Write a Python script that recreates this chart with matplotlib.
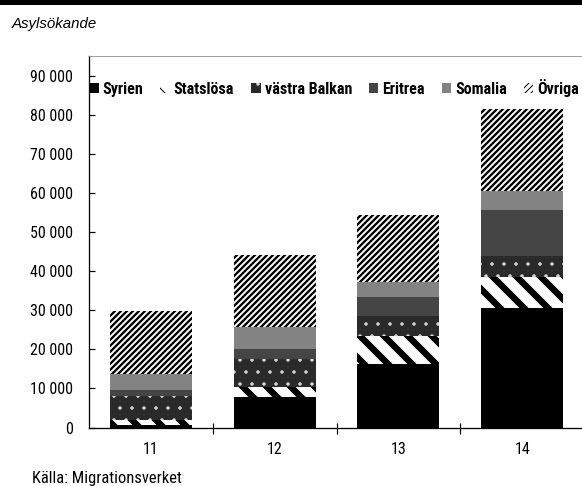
import matplotlib
matplotlib.use('Agg')
import matplotlib.pyplot as plt
from matplotlib import font_manager as fm
from matplotlib.patches import Rectangle
from matplotlib.ticker import FuncFormatter, FixedLocator

# Asylsökande per år och land
years = ['11', '12', '13', '14']
syrien = [600, 7750, 16300, 30600]
statslosa = [1300, 2500, 7000, 7900]
balkan = [6200, 7300, 5200, 5450]
eritrea = [1400, 2400, 4750, 11600]
somalia = [4250, 5800, 3950, 4950]
ovriga = [16000, 18250, 17050, 20900]

series = [
    ('Syrien', syrien, dict(color='black')),
    ('Statslösa', statslosa, dict(facecolor='white', edgecolor='black', hatch='\\', hlw=6.5)),
    ('västra Balkan', balkan, dict(facecolor='#2a2a2a', edgecolor='#dddddd', hatch='.', hlw=1.0)),
    ('Eritrea', eritrea, dict(color='#454545')),
    ('Somalia', somalia, dict(color='#838383')),
    ('Övriga', ovriga, dict(facecolor='white', edgecolor='black', hatch='////', hlw=2.3)),
]

# hitta ett smalt typsnitt om det finns
cond = ('condensed', 'semi-condensed', 'extra-condensed', 'ultra-condensed')
found = {}
for f in fm.fontManager.ttflist:
    if 'Narrow' in f.name or 'Condensed' in f.name:
        found.setdefault((f.name, 'normal'), set()).add(f.weight)
    elif f.stretch in cond or (isinstance(f.stretch, (int, float)) and f.stretch < 500):
        found.setdefault((f.name, f.stretch), set()).add(f.weight)
narrow_family, narrow_stretch = 'DejaVu Sans', 'condensed'
for pref in ['Roboto Condensed', 'Liberation Sans Narrow', 'Open Sans Condensed', 'Noto Sans', 'DejaVu Sans']:
    hits = [k for k in found if k[0] == pref]
    if hits:
        narrow_family, narrow_stretch = hits[0]
        break


def nf(size, weight='normal'):
    return fm.FontProperties(family=[narrow_family, 'DejaVu Sans'], stretch=narrow_stretch,
                             weight=weight, size=size)


fig = plt.figure(figsize=(582 / 72, 486 / 72), dpi=72)
ax = fig.add_axes([89 / 582, 58.5 / 486, 495 / 582, 371.5 / 486])

x = list(range(len(years)))
bottom = [0] * len(years)
for name, vals, st in series:
    st = dict(st)
    hlw = st.pop('hlw', None)
    with plt.rc_context({'hatch.linewidth': hlw if hlw else 1.0}):
        bars = ax.bar(x, vals, width=0.663, bottom=bottom, linewidth=0, label=name, **st)
    if hlw:
        for b in bars:
            if hasattr(b, 'set_hatch_linewidth'):
                b.set_hatch_linewidth(hlw)
    bottom = [b + v for b, v in zip(bottom, vals)]

ax.set_xlim(-0.5, 3.5)
ax.set_ylim(0, 95000)
ax.set_yticks(range(0, 90001, 10000))
ax.yaxis.set_major_formatter(FuncFormatter(lambda v, p: f'{int(v):,}'.replace(',', ' ')))
ax.set_xticks(x)
ax.set_xticklabels(years)
ax.xaxis.set_minor_locator(FixedLocator([0.5, 1.5, 2.5]))

ax.tick_params(axis='y', direction='in', length=6, width=1.2, pad=16)
ax.tick_params(axis='x', which='major', length=0, pad=14)
ax.tick_params(axis='x', which='minor', direction='inout', length=11, width=1.2)
for lab in ax.get_xticklabels() + ax.get_yticklabels():
    lab.set_fontproperties(nf(16))

ax.spines['right'].set_visible(False)
ax.spines['top'].set_color('#8a8a8a')
ax.spines['top'].set_linewidth(0.8)
ax.spines['left'].set_linewidth(1.3)
ax.spines['bottom'].set_linewidth(1.3)

ax.legend(loc='center left', bbox_to_anchor=(0, 0.915), ncol=6, frameon=False,
          borderaxespad=0, borderpad=0, handlelength=0.6, handleheight=0.6,
          handletextpad=0.25, columnspacing=1.05, prop=nf(16, 'bold'))

# svart list överst
fig.patches.append(Rectangle((0, 1 - 5 / 486), 1, 5 / 486, transform=fig.transFigure,
                             facecolor='black', edgecolor='none'))
fig.text(12 / 582, 1 - 28 / 486, 'Asylsökande', fontsize=15, style='italic',
         family='Liberation Sans', va='baseline', ha='left')
fig.text(32 / 582, 1 - 483 / 486, 'Källa: Migrationsverket', fontproperties=nf(16.5),
         va='baseline', ha='left')

fig.savefig('out.png', dpi=72)
